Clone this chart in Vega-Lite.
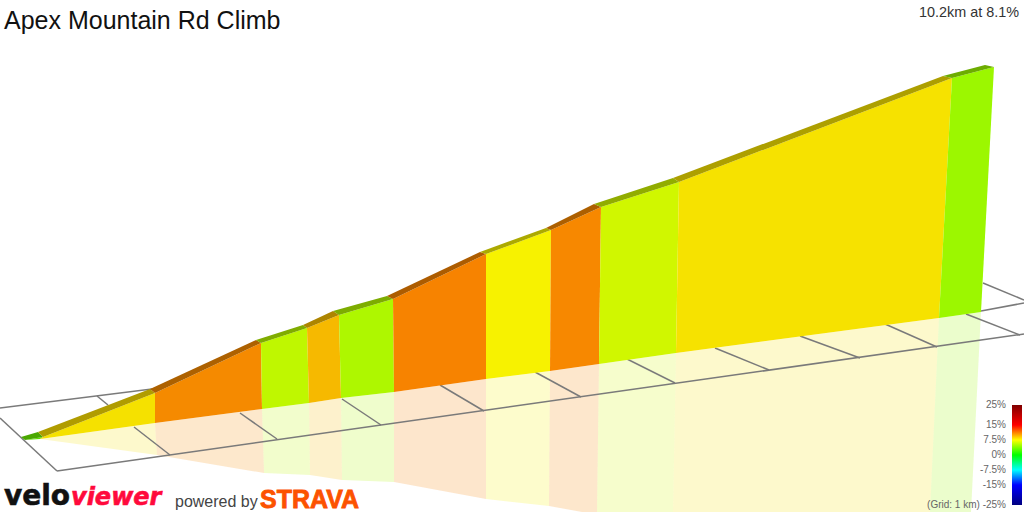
{"$schema":"https://vega.github.io/schema/vega-lite/v6.json","width":1024,"height":512,"autosize":"none","padding":0,"background":"white","config":{"view":{"stroke":null}},
"datasets":{
"walls":[
{"p":"w0","s":"s0","i":0,"x":25,"y":440},{"p":"w0","s":"s0","i":1,"x":43,"y":437},{"p":"w0","s":"s0","i":2,"x":40,"y":439},
{"p":"w1","s":"s1","i":0,"x":43,"y":437},{"p":"w1","s":"s1","i":1,"x":155,"y":393},{"p":"w1","s":"s1","i":2,"x":155,"y":423},{"p":"w1","s":"s1","i":3,"x":40,"y":439},
{"p":"w2","s":"s2","i":0,"x":155,"y":393},{"p":"w2","s":"s2","i":1,"x":261,"y":343},{"p":"w2","s":"s2","i":2,"x":262,"y":409},{"p":"w2","s":"s2","i":3,"x":155,"y":423},
{"p":"w3","s":"s3","i":0,"x":261,"y":343},{"p":"w3","s":"s3","i":1,"x":307,"y":328},{"p":"w3","s":"s3","i":2,"x":309,"y":403},{"p":"w3","s":"s3","i":3,"x":262,"y":409},
{"p":"w4","s":"s4","i":0,"x":307,"y":328},{"p":"w4","s":"s4","i":1,"x":339,"y":315},{"p":"w4","s":"s4","i":2,"x":341,"y":398},{"p":"w4","s":"s4","i":3,"x":309,"y":403},
{"p":"w5","s":"s5","i":0,"x":339,"y":315},{"p":"w5","s":"s5","i":1,"x":393,"y":299},{"p":"w5","s":"s5","i":2,"x":394,"y":392},{"p":"w5","s":"s5","i":3,"x":341,"y":398},
{"p":"w6","s":"s6","i":0,"x":393,"y":299},{"p":"w6","s":"s6","i":1,"x":486,"y":254},{"p":"w6","s":"s6","i":2,"x":486,"y":379},{"p":"w6","s":"s6","i":3,"x":394,"y":392},
{"p":"w7","s":"s7","i":0,"x":486,"y":254},{"p":"w7","s":"s7","i":1,"x":551,"y":230},{"p":"w7","s":"s7","i":2,"x":550,"y":371},{"p":"w7","s":"s7","i":3,"x":486,"y":379},
{"p":"w8","s":"s8","i":0,"x":551,"y":230},{"p":"w8","s":"s8","i":1,"x":601,"y":207},{"p":"w8","s":"s8","i":2,"x":599,"y":364},{"p":"w8","s":"s8","i":3,"x":550,"y":371},
{"p":"w9","s":"s9","i":0,"x":601,"y":207},{"p":"w9","s":"s9","i":1,"x":679,"y":182},{"p":"w9","s":"s9","i":2,"x":676,"y":353},{"p":"w9","s":"s9","i":3,"x":599,"y":364},
{"p":"w10","s":"s10","i":0,"x":679,"y":182},{"p":"w10","s":"s10","i":1,"x":952,"y":78},{"p":"w10","s":"s10","i":2,"x":939,"y":318},{"p":"w10","s":"s10","i":3,"x":676,"y":353},
{"p":"w11","s":"s11","i":0,"x":952,"y":78},{"p":"w11","s":"s11","i":1,"x":994,"y":67},{"p":"w11","s":"s11","i":2,"x":981,"y":312},{"p":"w11","s":"s11","i":3,"x":939,"y":318}],
"ridges":[
{"p":"r0","s":"d0","i":0,"x":21,"y":437},{"p":"r0","s":"d0","i":1,"x":38,"y":432},{"p":"r0","s":"d0","i":2,"x":43,"y":437},{"p":"r0","s":"d0","i":3,"x":25,"y":440},
{"p":"r1","s":"d1","i":0,"x":38,"y":432},{"p":"r1","s":"d1","i":1,"x":150,"y":389},{"p":"r1","s":"d1","i":2,"x":155,"y":393},{"p":"r1","s":"d1","i":3,"x":43,"y":437},
{"p":"r2","s":"d2","i":0,"x":150,"y":389},{"p":"r2","s":"d2","i":1,"x":256,"y":340},{"p":"r2","s":"d2","i":2,"x":261,"y":343},{"p":"r2","s":"d2","i":3,"x":155,"y":393},
{"p":"r3","s":"d3","i":0,"x":256,"y":340},{"p":"r3","s":"d3","i":1,"x":303,"y":325},{"p":"r3","s":"d3","i":2,"x":307,"y":328},{"p":"r3","s":"d3","i":3,"x":261,"y":343},
{"p":"r4","s":"d4","i":0,"x":303,"y":325},{"p":"r4","s":"d4","i":1,"x":333,"y":311},{"p":"r4","s":"d4","i":2,"x":339,"y":315},{"p":"r4","s":"d4","i":3,"x":307,"y":328},
{"p":"r5","s":"d5","i":0,"x":333,"y":311},{"p":"r5","s":"d5","i":1,"x":387,"y":296},{"p":"r5","s":"d5","i":2,"x":393,"y":299},{"p":"r5","s":"d5","i":3,"x":339,"y":315},
{"p":"r6","s":"d6","i":0,"x":387,"y":296},{"p":"r6","s":"d6","i":1,"x":480,"y":252},{"p":"r6","s":"d6","i":2,"x":486,"y":254},{"p":"r6","s":"d6","i":3,"x":393,"y":299},
{"p":"r7","s":"d7","i":0,"x":480,"y":252},{"p":"r7","s":"d7","i":1,"x":546,"y":228},{"p":"r7","s":"d7","i":2,"x":551,"y":230},{"p":"r7","s":"d7","i":3,"x":486,"y":254},
{"p":"r8","s":"d8","i":0,"x":546,"y":228},{"p":"r8","s":"d8","i":1,"x":594,"y":204},{"p":"r8","s":"d8","i":2,"x":601,"y":207},{"p":"r8","s":"d8","i":3,"x":551,"y":230},
{"p":"r9","s":"d9","i":0,"x":594,"y":204},{"p":"r9","s":"d9","i":1,"x":673,"y":178},{"p":"r9","s":"d9","i":2,"x":679,"y":182},{"p":"r9","s":"d9","i":3,"x":601,"y":207},
{"p":"r10","s":"d10","i":0,"x":673,"y":178},{"p":"r10","s":"d10","i":1,"x":943,"y":76},{"p":"r10","s":"d10","i":2,"x":952,"y":78},{"p":"r10","s":"d10","i":3,"x":679,"y":182},
{"p":"r11","s":"d11","i":0,"x":943,"y":76},{"p":"r11","s":"d11","i":1,"x":985,"y":65},{"p":"r11","s":"d11","i":2,"x":994,"y":67},{"p":"r11","s":"d11","i":3,"x":952,"y":78}],
"mirror":[
{"p":"m1","s":"s1","i":0,"x":40,"y":439},{"p":"m1","s":"s1","i":1,"x":155,"y":423},{"p":"m1","s":"s1","i":2,"x":157,"y":455},
{"p":"m2","s":"s2","i":0,"x":155,"y":423},{"p":"m2","s":"s2","i":1,"x":262,"y":409},{"p":"m2","s":"s2","i":2,"x":264,"y":473},{"p":"m2","s":"s2","i":3,"x":157,"y":455},
{"p":"m3","s":"s3","i":0,"x":262,"y":409},{"p":"m3","s":"s3","i":1,"x":309,"y":403},{"p":"m3","s":"s3","i":2,"x":310,"y":475},{"p":"m3","s":"s3","i":3,"x":264,"y":473},
{"p":"m4","s":"s4","i":0,"x":309,"y":403},{"p":"m4","s":"s4","i":1,"x":341,"y":398},{"p":"m4","s":"s4","i":2,"x":342,"y":480},{"p":"m4","s":"s4","i":3,"x":310,"y":475},
{"p":"m5","s":"s5","i":0,"x":341,"y":398},{"p":"m5","s":"s5","i":1,"x":394,"y":392},{"p":"m5","s":"s5","i":2,"x":394,"y":482},{"p":"m5","s":"s5","i":3,"x":342,"y":480},
{"p":"m6","s":"s6","i":0,"x":394,"y":392},{"p":"m6","s":"s6","i":1,"x":486,"y":379},{"p":"m6","s":"s6","i":2,"x":486,"y":499},{"p":"m6","s":"s6","i":3,"x":394,"y":482},
{"p":"m7","s":"s7","i":0,"x":486,"y":379},{"p":"m7","s":"s7","i":1,"x":550,"y":371},{"p":"m7","s":"s7","i":2,"x":549,"y":506},{"p":"m7","s":"s7","i":3,"x":486,"y":499},
{"p":"m8","s":"s8","i":0,"x":550,"y":371},{"p":"m8","s":"s8","i":1,"x":599,"y":364},{"p":"m8","s":"s8","i":2,"x":597,"y":512},{"p":"m8","s":"s8","i":3,"x":582,"y":512},{"p":"m8","s":"s8","i":4,"x":549,"y":506},
{"p":"m9","s":"s9","i":0,"x":599,"y":364},{"p":"m9","s":"s9","i":1,"x":676,"y":353},{"p":"m9","s":"s9","i":2,"x":673,"y":512},{"p":"m9","s":"s9","i":3,"x":597,"y":512},
{"p":"m10","s":"s10","i":0,"x":676,"y":353},{"p":"m10","s":"s10","i":1,"x":939,"y":318},{"p":"m10","s":"s10","i":2,"x":930,"y":512},{"p":"m10","s":"s10","i":3,"x":673,"y":512},
{"p":"m11","s":"s11","i":0,"x":939,"y":318},{"p":"m11","s":"s11","i":1,"x":981,"y":312},{"p":"m11","s":"s11","i":2,"x":971,"y":512},{"p":"m11","s":"s11","i":3,"x":930,"y":512}],
"grid":[
{"x":0,"y":408,"x2":152,"y2":389},{"x":0,"y":418,"x2":57,"y2":471},{"x":57,"y":471,"x2":1024,"y2":334},{"x":97,"y":396,"x2":108,"y2":405},
{"x":134,"y":427,"x2":170,"y2":455},{"x":240,"y":413,"x2":277,"y2":439},{"x":342,"y":399,"x2":381,"y2":425},{"x":440,"y":385,"x2":484,"y2":411},{"x":535,"y":372,"x2":581,"y2":397},{"x":627,"y":359,"x2":675,"y2":383},{"x":715,"y":348,"x2":769,"y2":370},{"x":800,"y":336,"x2":860,"y2":358},{"x":885,"y":324,"x2":937,"y2":347},{"x":966,"y":314,"x2":1020,"y2":335},{"x":983,"y":283,"x2":1024,"y2":300},{"x":981,"y":311,"x2":1024,"y2":303}],
"labels":[
{"k":"title","t":"Apex Mountain Rd Climb","x":4,"y":21},
{"k":"sub","t":"10.2km at 8.1%","x":1019,"y":13},
{"k":"leg","t":"25%","x":1006,"y":405},{"k":"leg","t":"15%","x":1006,"y":425},{"k":"leg","t":"7.5%","x":1006,"y":440},{"k":"leg","t":"0%","x":1006,"y":455},{"k":"leg","t":"-7.5%","x":1006,"y":470},{"k":"leg","t":"-15%","x":1006,"y":485},{"k":"leg","t":"(Grid: 1 km) -25%","x":1006,"y":505},
{"k":"velo","t":"velo","x":4,"y":505},{"k":"viewer","t":"viewer","x":71,"y":505},
{"k":"pow","t":"powered by","x":175,"y":502},{"k":"strava","t":"STRAVA","x":260,"y":508}],
"bar":[{"x":1012,"x2":1022,"y":405,"y2":505}]
},
"encoding":{"x":{"field":"x","type":"quantitative","scale":{"domain":[0,1024],"nice":false,"zero":false},"axis":null},"y":{"field":"y","type":"quantitative","scale":{"domain":[512,0],"nice":false,"zero":false},"axis":null}},
"layer":[
{"data":{"name":"mirror"},"mark":{"type":"line","interpolate":"linear-closed","strokeWidth":0,"opacity":0.2,"clip":true},"encoding":{"detail":{"field":"p"},"order":{"field":"i"},"fill":{"field":"s","type":"nominal","legend":null,"scale":{"domain":["s0","s1","s2","s3","s4","s5","s6","s7","s8","s9","s10","s11","d0","d1","d2","d3","d4","d5","d6","d7","d8","d9","d10","d11"],"range":["#5fe000","#f5e100","#f58a00","#bff700","#f6b900","#aef700","#f78300","#f7f200","#f78800","#d0f700","#f6e200","#9cf700","#4aa800","#b09c00","#ad6100","#80ac00","#ad8500","#7dac00","#ad5c00","#aca900","#ad5f00","#91ac00","#ad9f00","#6dac00"]}}}},
{"data":{"name":"grid"},"mark":{"type":"rule","color":"#7a7a7a","strokeWidth":1.5},"encoding":{"x2":{"field":"x2"},"y2":{"field":"y2"}}},
{"data":{"name":"walls"},"mark":{"type":"line","interpolate":"linear-closed","strokeWidth":0},"encoding":{"detail":{"field":"p"},"order":{"field":"i"},"fill":{"field":"s","type":"nominal","legend":null}}},
{"data":{"name":"ridges"},"mark":{"type":"line","interpolate":"linear-closed","strokeWidth":0},"encoding":{"detail":{"field":"p"},"order":{"field":"i"},"fill":{"field":"s","type":"nominal","legend":null}}},
{"data":{"name":"bar"},"mark":{"type":"rect","color":{"gradient":"linear","x1":0,"y1":0,"x2":0,"y2":1,"stops":[{"offset":0,"color":"#7f0000"},{"offset":0.2,"color":"#ff0000"},{"offset":0.35,"color":"#ffff00"},{"offset":0.5,"color":"#00ff00"},{"offset":0.65,"color":"#00ffff"},{"offset":0.8,"color":"#0000ff"},{"offset":1,"color":"#00007f"}]}},"encoding":{"x2":{"field":"x2"},"y2":{"field":"y2"}}},
{"data":{"name":"labels"},"transform":[{"filter":"datum.k=='title'"}],"mark":{"type":"text","align":"left","baseline":"middle","font":"Liberation Sans","fontSize":25,"color":"#111"},"encoding":{"text":{"field":"t"}}},
{"data":{"name":"labels"},"transform":[{"filter":"datum.k=='sub'"}],"mark":{"type":"text","align":"right","baseline":"middle","font":"Liberation Sans","fontSize":14.4,"color":"#333"},"encoding":{"text":{"field":"t"}}},
{"data":{"name":"labels"},"transform":[{"filter":"datum.k=='leg'"}],"mark":{"type":"text","align":"right","baseline":"middle","font":"Liberation Sans","fontSize":10,"color":"#666"},"encoding":{"text":{"field":"t"}}},
{"data":{"name":"labels"},"transform":[{"filter":"datum.k=='velo'"}],"mark":{"type":"text","align":"left","baseline":"alphabetic","font":"DejaVu Sans","fontWeight":"bold","fontSize":28,"color":"#111","stroke":"#111","strokeWidth":0.6},"encoding":{"text":{"field":"t"}}},
{"data":{"name":"labels"},"transform":[{"filter":"datum.k=='viewer'"}],"mark":{"type":"text","align":"left","baseline":"alphabetic","font":"DejaVu Sans","fontWeight":"bold","fontStyle":"italic","fontSize":24,"color":"#ff0a3c","stroke":"#ff0a3c","strokeWidth":0.6},"encoding":{"text":{"field":"t"}}},
{"data":{"name":"labels"},"transform":[{"filter":"datum.k=='pow'"}],"mark":{"type":"text","align":"left","baseline":"middle","font":"Liberation Sans","fontSize":16,"color":"#444"},"encoding":{"text":{"field":"t"}}},
{"data":{"name":"labels"},"transform":[{"filter":"datum.k=='strava'"}],"mark":{"type":"text","align":"left","baseline":"alphabetic","font":"Liberation Sans","fontWeight":"bold","fontSize":25,"color":"#fc5200","stroke":"#fc5200","strokeWidth":0.8},"encoding":{"text":{"field":"t"}}}
]}
